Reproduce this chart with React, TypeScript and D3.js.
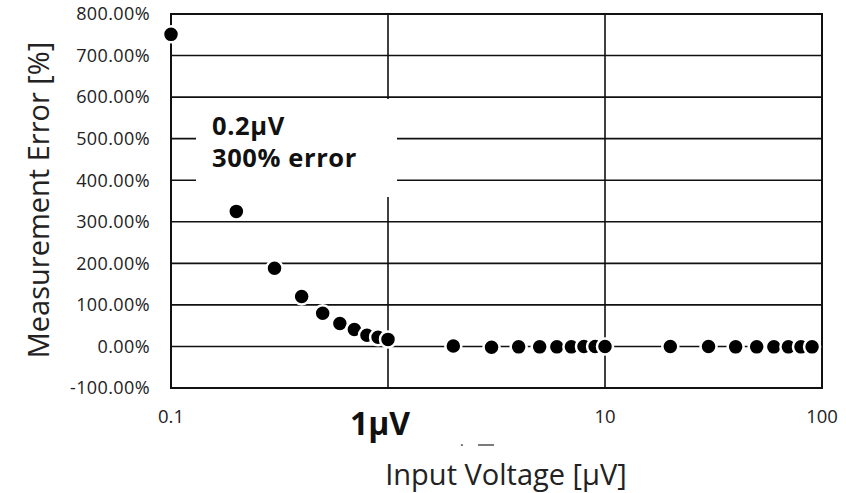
import React from "react";
import * as d3 from "d3";

const voltages = [0.1, 0.2, 0.3, 0.4, 0.5, 0.6, 0.7, 0.8, 0.9, 1, 2, 3, 4, 5, 6, 7, 8, 9, 10, 20, 30, 40, 50, 60, 70, 80, 90];
const errors = [751, 325, 188, 120, 80, 55, 41, 27, 22, 17, 1, -2, -1, -1, -1, -1, 0, 0, 0, 0, 0, -1, -1, -1, -1, -1, -1];
const yTicks = [-100, 0, 100, 200, 300, 400, 500, 600, 700, 800];
const xTickLabels = [
  { v: 0.1, label: "0.1" },
  { v: 10, label: "10" },
  { v: 100, label: "100" },
];
const xGridValues = [1, 10];
const annotationLines = ["0.2μV", "300% error"];

const W = 846;
const H = 493;
const L = 171, R = 822, T = 14, B = 388;

export default function App() {
  const x = d3.scaleLog().domain([0.1, 100]).range([L, R]);
  const y = d3.scaleLinear().domain([-100, 800]).range([B, T]);
  const fmt = (v: number) => v.toFixed(2) + "%";
  const font = "'Open Sans', sans-serif";
  return (
    <svg width={W} height={H} style={{ position: "absolute", left: 0, top: 0, background: "#fff" }}>
      <rect x={0} y={0} width={W} height={H} fill="#fff" />
      {yTicks.filter((t) => t > -100 && t < 800).map((t) => (
        <line key={"h" + t} x1={L} x2={R} y1={y(t)} y2={y(t)} stroke="#111" strokeWidth={1.6} />
      ))}
      {xGridValues.map((v) => (
        <line key={"v" + v} x1={x(v)} x2={x(v)} y1={T} y2={B} stroke="#111" strokeWidth={1.6} />
      ))}
      <rect x={196} y={99} width={201} height={98} fill="#fff" />
      {annotationLines.map((s, i) => (
        <text key={s} x={212} y={135 + i * 32} fontFamily={font} fontWeight={700} fontSize={25.5} letterSpacing={0.6} fill="#111">{s}</text>
      ))}
      <rect x={L} y={T} width={R - L} height={B - T} fill="none" stroke="#111" strokeWidth={2} />
      {yTicks.map((t) => (
        <text key={"yl" + t} x={150} y={y(t)} dy="0.35em" textAnchor="end" fontFamily={font} fontSize={18} fill="#222" letterSpacing={0.4}>{fmt(t)}</text>
      ))}
      {xTickLabels.map((d) => (
        <text key={"xl" + d.label} x={x(d.v)} y={417} dy="0.35em" textAnchor="middle" fontFamily={font} fontSize={18.5} fill="#222">{d.label}</text>
      ))}
      <text x={380} y={435} textAnchor="middle" fontFamily={font} fontWeight={700} fontSize={32} fill="#111">1μV</text>
      <text x={460} y={450} fontFamily={font} fontSize={14} fill="#333">·</text>
      <line x1={478} x2={494} y1={445} y2={445} stroke="#333" strokeWidth={1.3} />
      <text x={506} y={485} textAnchor="middle" fontFamily={font} fontSize={29} fill="#222">Input Voltage [μV]</text>
      <text transform={`translate(49,200) rotate(-90)`} textAnchor="middle" fontFamily={font} fontSize={29} fill="#222">Measurement Error [%]</text>
      {voltages.map((v, i) => (
        <circle key={"p" + i} cx={x(v)} cy={y(errors[i])} r={8} fill="#000" stroke="#fff" strokeWidth={2.5} />
      ))}
    </svg>
  );
}
